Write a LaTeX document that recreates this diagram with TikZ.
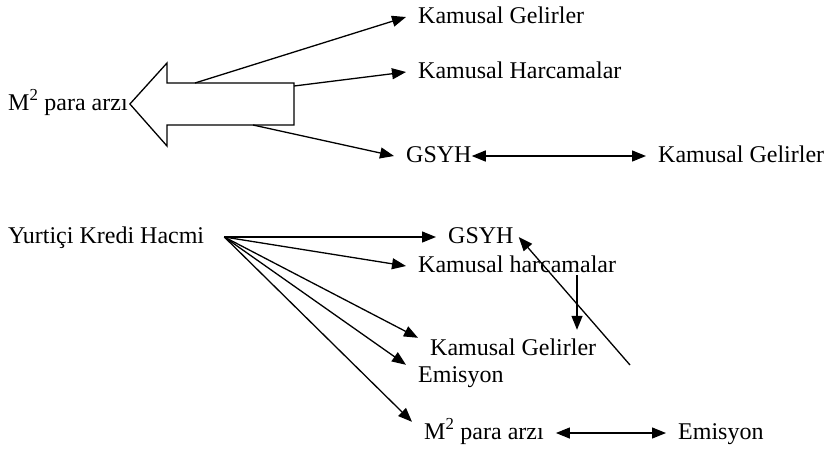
\documentclass[tikz,border=0pt]{standalone}
\usepackage{fontspec}
\setmainfont{Liberation Serif}
\usepackage{tikz}
\usetikzlibrary{positioning}
\usetikzlibrary{arrows.meta}
\newcommand{\msq}{M\textsuperscript{2}}

\begin{document}
\begin{tikzpicture}[x=1pt,y=-1pt]
  \tikzstyle{every node}=[font=\fontsize{24}{28}\selectfont, inner ysep=0pt, inner xsep=12pt, text height=17pt, text depth=5pt, anchor=base west]
  \tikzstyle{ok}=[draw, line width=1.3pt, -{Triangle[length=14pt,width=11pt]}]
  \tikzstyle{okok}=[ok, {Triangle[length=14pt,width=11pt]}-{Triangle[length=14pt,width=11pt]}]
  \useasboundingbox (0,0) rectangle (826,448);

  % ust kisim
  \node (m2a) [inner xsep=0pt] at (8,110) {\msq{} para arzı};
  \node (kg1) at (406,23) {Kamusal Gelirler};
  \node (kh1) at (406,78) {Kamusal Harcamalar};
  \node (gs1) at (394,162) {GSYH};
  \node (kg2) at (646,162) {Kamusal Gelirler};

  \draw[line width=1.3pt] ([xshift=2pt]m2a.east) -- (167,63) -- (167,83) -- (294,83)
    -- (294,125) -- (167,125) -- (167,146) -- cycle;
  \coordinate (ba1) at (195,83);
  \coordinate (ba2) at (294,86);
  \coordinate (ba3) at (253,125);

  \draw[ok] (ba1) -- (kg1.west);
  \draw[ok] (ba2) -- (kh1.west);
  \draw[ok] (ba3) -- (gs1.west);
  \draw[okok] ([xshift=-12pt]gs1.east) -- (kg2.west);

  % alt kisim
  \node (ykh) [inner xsep=0pt] at (8,243) {Yurtiçi Kredi Hacmi};
  \node (gs2) at (436,243) {GSYH};
  \node (kh2) at (406,272) {Kamusal harcamalar};
  \node (kg3) at (418,355) {Kamusal Gelirler};
  \node (emi1) at (406,382) {Emisyon};
  \node (m2b) at (412,439) {\msq{} para arzı};
  \node (emi2) at (666,439) {Emisyon};

  \coordinate (fan) at ([xshift=20pt]ykh.east);
  \draw[ok] (fan) -- (gs2.west);
  \draw[ok] (fan) -- (kh2.west);
  \draw[ok] (fan) -- (kg3.north west);
  \draw[ok] (fan) -- (emi1.north west);
  \draw[ok] (fan) -- (m2b.north west);
  \draw[okok] (m2b.east) -- (emi2.west);

  \coordinate (vx) at (577,0);
  \draw[ok, shorten <=-2pt, shorten >=8pt] (kh2.south -| vx) -- (kg3.north -| vx);
  \coordinate (dg) at (630,365);
  \draw[ok] (dg) -- ([xshift=-7pt]gs2.east);
\end{tikzpicture}
\end{document}
